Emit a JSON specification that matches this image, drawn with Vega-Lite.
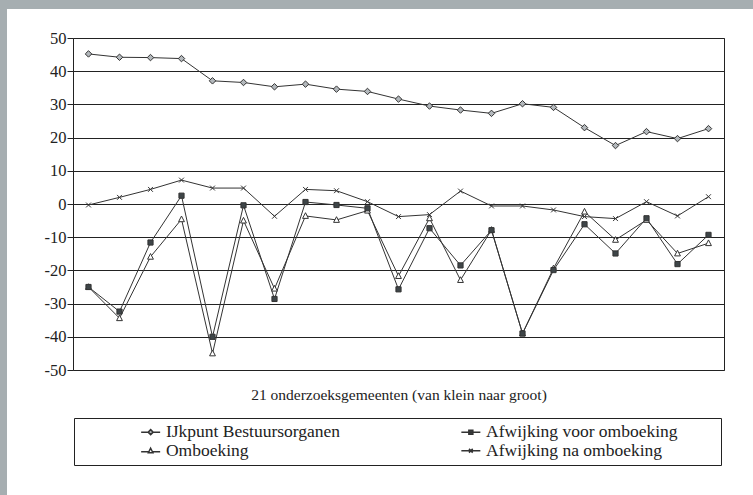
{
  "$schema": "https://vega.github.io/schema/vega-lite/v6.json",
  "background": "white",
  "padding": 0,
  "spacing": 0,
  "columns": 2,
  "align": "none",
  "config": {
    "font": "Liberation Serif",
    "axis": {"labelFont": "Liberation Serif", "titleFont": "Liberation Serif"},
    "legend": {"labelFont": "Liberation Serif", "titleFont": "Liberation Serif"}
  },
  "datasets": {
    "blank": [{}],
    "main": [
      {"i": 1, "s": "IJkpunt Bestuursorganen", "v": 45.2},
      {"i": 2, "s": "IJkpunt Bestuursorganen", "v": 44.2},
      {"i": 3, "s": "IJkpunt Bestuursorganen", "v": 44.1},
      {"i": 4, "s": "IJkpunt Bestuursorganen", "v": 43.8},
      {"i": 5, "s": "IJkpunt Bestuursorganen", "v": 37.1},
      {"i": 6, "s": "IJkpunt Bestuursorganen", "v": 36.6},
      {"i": 7, "s": "IJkpunt Bestuursorganen", "v": 35.3},
      {"i": 8, "s": "IJkpunt Bestuursorganen", "v": 36.1},
      {"i": 9, "s": "IJkpunt Bestuursorganen", "v": 34.6},
      {"i": 10, "s": "IJkpunt Bestuursorganen", "v": 33.9},
      {"i": 11, "s": "IJkpunt Bestuursorganen", "v": 31.6},
      {"i": 12, "s": "IJkpunt Bestuursorganen", "v": 29.5},
      {"i": 13, "s": "IJkpunt Bestuursorganen", "v": 28.3},
      {"i": 14, "s": "IJkpunt Bestuursorganen", "v": 27.3},
      {"i": 15, "s": "IJkpunt Bestuursorganen", "v": 30.2},
      {"i": 16, "s": "IJkpunt Bestuursorganen", "v": 29.1},
      {"i": 17, "s": "IJkpunt Bestuursorganen", "v": 23.0},
      {"i": 18, "s": "IJkpunt Bestuursorganen", "v": 17.6},
      {"i": 19, "s": "IJkpunt Bestuursorganen", "v": 21.8},
      {"i": 20, "s": "IJkpunt Bestuursorganen", "v": 19.7},
      {"i": 21, "s": "IJkpunt Bestuursorganen", "v": 22.7},
      {"i": 1, "s": "Omboeking", "v": -25.0},
      {"i": 2, "s": "Omboeking", "v": -34.4},
      {"i": 3, "s": "Omboeking", "v": -15.9},
      {"i": 4, "s": "Omboeking", "v": -4.6},
      {"i": 5, "s": "Omboeking", "v": -45.0},
      {"i": 6, "s": "Omboeking", "v": -5.0},
      {"i": 7, "s": "Omboeking", "v": -25.5},
      {"i": 8, "s": "Omboeking", "v": -3.6},
      {"i": 9, "s": "Omboeking", "v": -4.8},
      {"i": 10, "s": "Omboeking", "v": -2.0},
      {"i": 11, "s": "Omboeking", "v": -21.7},
      {"i": 12, "s": "Omboeking", "v": -4.3},
      {"i": 13, "s": "Omboeking", "v": -22.9},
      {"i": 14, "s": "Omboeking", "v": -7.8},
      {"i": 15, "s": "Omboeking", "v": -39.0},
      {"i": 16, "s": "Omboeking", "v": -19.4},
      {"i": 17, "s": "Omboeking", "v": -2.3},
      {"i": 18, "s": "Omboeking", "v": -10.8},
      {"i": 19, "s": "Omboeking", "v": -4.8},
      {"i": 20, "s": "Omboeking", "v": -14.9},
      {"i": 21, "s": "Omboeking", "v": -11.8},
      {"i": 1, "s": "Afwijking voor omboeking", "v": -25.0},
      {"i": 2, "s": "Afwijking voor omboeking", "v": -32.4},
      {"i": 3, "s": "Afwijking voor omboeking", "v": -11.6},
      {"i": 4, "s": "Afwijking voor omboeking", "v": 2.5},
      {"i": 5, "s": "Afwijking voor omboeking", "v": -40.0},
      {"i": 6, "s": "Afwijking voor omboeking", "v": -0.4},
      {"i": 7, "s": "Afwijking voor omboeking", "v": -28.6},
      {"i": 8, "s": "Afwijking voor omboeking", "v": 0.6},
      {"i": 9, "s": "Afwijking voor omboeking", "v": -0.3},
      {"i": 10, "s": "Afwijking voor omboeking", "v": -1.3},
      {"i": 11, "s": "Afwijking voor omboeking", "v": -25.7},
      {"i": 12, "s": "Afwijking voor omboeking", "v": -7.3},
      {"i": 13, "s": "Afwijking voor omboeking", "v": -18.5},
      {"i": 14, "s": "Afwijking voor omboeking", "v": -7.9},
      {"i": 15, "s": "Afwijking voor omboeking", "v": -39.0},
      {"i": 16, "s": "Afwijking voor omboeking", "v": -19.9},
      {"i": 17, "s": "Afwijking voor omboeking", "v": -6.1},
      {"i": 18, "s": "Afwijking voor omboeking", "v": -14.9},
      {"i": 19, "s": "Afwijking voor omboeking", "v": -4.3},
      {"i": 20, "s": "Afwijking voor omboeking", "v": -18.1},
      {"i": 21, "s": "Afwijking voor omboeking", "v": -9.3},
      {"i": 1, "s": "Afwijking na omboeking", "v": -0.3},
      {"i": 2, "s": "Afwijking na omboeking", "v": 2.0},
      {"i": 3, "s": "Afwijking na omboeking", "v": 4.4},
      {"i": 4, "s": "Afwijking na omboeking", "v": 7.2},
      {"i": 5, "s": "Afwijking na omboeking", "v": 4.8},
      {"i": 6, "s": "Afwijking na omboeking", "v": 4.8},
      {"i": 7, "s": "Afwijking na omboeking", "v": -3.7},
      {"i": 8, "s": "Afwijking na omboeking", "v": 4.4},
      {"i": 9, "s": "Afwijking na omboeking", "v": 4.0},
      {"i": 10, "s": "Afwijking na omboeking", "v": 0.7},
      {"i": 11, "s": "Afwijking na omboeking", "v": -3.8},
      {"i": 12, "s": "Afwijking na omboeking", "v": -3.2},
      {"i": 13, "s": "Afwijking na omboeking", "v": 3.9},
      {"i": 14, "s": "Afwijking na omboeking", "v": -0.6},
      {"i": 15, "s": "Afwijking na omboeking", "v": -0.6},
      {"i": 16, "s": "Afwijking na omboeking", "v": -1.8},
      {"i": 17, "s": "Afwijking na omboeking", "v": -3.8},
      {"i": 18, "s": "Afwijking na omboeking", "v": -4.4},
      {"i": 19, "s": "Afwijking na omboeking", "v": 0.7},
      {"i": 20, "s": "Afwijking na omboeking", "v": -3.6},
      {"i": 21, "s": "Afwijking na omboeking", "v": 2.2}
    ]
  },
  "concat": [
    {
      "width": 7,
      "height": 29,
      "view": {"fill": "#a6aeb1", "stroke": null},
      "data": {"name": "blank"},
      "mark": {"type": "point", "opacity": 0}
    },
    {
      "width": 746,
      "height": 9,
      "view": {"fill": "#a6aeb1", "stroke": null},
      "data": {"name": "blank"},
      "mark": {"type": "point", "opacity": 0}
    },
    {
      "width": 7,
      "height": 466,
      "view": {"fill": "#a6aeb1", "stroke": null},
      "data": {"name": "blank"},
      "mark": {"type": "point", "opacity": 0}
    },
    {
      "width": 651,
      "height": 332,
      "view": {"stroke": "#222222", "strokeWidth": 1, "fill": "white"},
      "data": {"name": "main"},
      "encoding": {
        "x": {
          "field": "i",
          "type": "ordinal",
          "axis": {
            "labels": false,
            "ticks": false,
            "domain": false,
            "title": "21 onderzoeksgemeenten (van klein naar groot)",
            "titleFont": "Liberation Serif",
            "titleFontSize": 15.5,
            "titleFontWeight": "normal",
            "titleColor": "#222222",
            "titlePadding": 17
          }
        },
        "y": {
          "field": "v",
          "type": "quantitative",
          "scale": {"domain": [-50, 50], "nice": false},
          "axis": {
            "values": [-50, -40, -30, -20, -10, 0, 10, 20, 30, 40, 50],
            "title": null,
            "labelExpr": "toString(datum.value)",
            "labelFont": "Liberation Serif",
            "labelFontSize": 16.5,
            "labelColor": "#222222",
            "tickSize": 6,
            "tickColor": "#222222",
            "labelPadding": 1,
            "domain": false,
            "grid": true,
            "gridColor": "#222222",
            "gridOpacity": 1,
            "minExtent": 65,
            "maxExtent": 65
          }
        }
      },
      "resolve": {
        "scale": {"shape": "independent", "fill": "independent"},
        "legend": {"shape": "independent", "fill": "independent"}
      },
      "layer": [
        {
          "mark": {"type": "line", "stroke": "#333333", "strokeWidth": 1},
          "encoding": {"detail": {"field": "s"}}
        },
        {
          "mark": {"type": "point", "filled": true, "stroke": "#333333", "strokeWidth": 1, "size": 42, "opacity": 1},
          "encoding": {
            "shape": {
              "field": "s",
              "type": "nominal",
              "scale": {
                "domain": ["IJkpunt Bestuursorganen", "Omboeking", "Afwijking voor omboeking", "Afwijking na omboeking"],
                "range": ["M0,-1L1,0L0,1L-1,0Z", "M0,-1L0.9,0.75L-0.9,0.75Z", "M-0.8,-0.8H0.8V0.8H-0.8Z", "M-0.75,-0.75L0.75,0.75M-0.75,0.75L0.75,-0.75"]
              },
              "legend": null
            },
            "fill": {
              "field": "s",
              "type": "nominal",
              "scale": {
                "domain": ["IJkpunt Bestuursorganen", "Omboeking", "Afwijking voor omboeking", "Afwijking na omboeking"],
                "range": ["#b3b8bc", "#ffffff", "#3e4548", "#333333"]
              },
              "legend": null
            }
          }
        },
        {
          "transform": [{"filter": "datum.v > 1000"}],
          "mark": {"type": "point", "filled": true, "stroke": "#333333", "strokeWidth": 1, "size": 25, "opacity": 1},
          "encoding": {
            "shape": {
              "field": "s",
              "type": "nominal",
              "scale": {
                "domain": ["IJkpunt Bestuursorganen", "Omboeking", "Afwijking voor omboeking", "Afwijking na omboeking"],
                "range": [
                  "M-3.8,0H-1M1,0H3.8M0,-1L1,0L0,1L-1,0Z",
                  "M-3.8,0.4H-0.7M0.7,0.4H3.8M0,-1L0.9,0.75L-0.9,0.75Z",
                  "M-3.8,0H3.8M-0.8,-0.8H0.8V0.8H-0.8Z",
                  "M-3.8,0H3.8M-0.75,-0.75L0.75,0.75M-0.75,0.75L0.75,-0.75"
                ]
              },
              "legend": {
                "title": "\u00a0",
                "titleOrient": "right",
                "titlePadding": 38,
                "titleFontSize": 1,
                "orient": "none",
                "legendX": 1,
                "legendY": 380,
                "columns": 2,
                "padding": 5,
                "strokeColor": "#222222",
                "fillColor": "white",
                "symbolSize": 25,
                "symbolOffset": 62.9,
                "labelOffset": 6.5,
                "columnPadding": 58.2,
                "rowPadding": 0,
                "labelFont": "Liberation Serif",
                "labelFontSize": 17.5,
                "labelColor": "#222222",
                "labelLimit": 0,
                "encode": {
                  "symbols": {
                    "stroke": {"value": "#333333"},
                    "strokeWidth": {"value": 1}
                  }
                }
              }
            },
            "fill": {
              "field": "s",
              "type": "nominal",
              "scale": {
                "domain": ["IJkpunt Bestuursorganen", "Omboeking", "Afwijking voor omboeking", "Afwijking na omboeking"],
                "range": ["#b3b8bc", "#ffffff", "#3e4548", "#333333"]
              },
              "legend": {
                "title": "\u00a0",
                "titleOrient": "right",
                "titlePadding": 38,
                "titleFontSize": 1,
                "orient": "none",
                "legendX": 1,
                "legendY": 380,
                "columns": 2,
                "padding": 5,
                "strokeColor": "#222222",
                "fillColor": "white",
                "symbolSize": 25,
                "symbolOffset": 62.9,
                "labelOffset": 6.5,
                "columnPadding": 58.2,
                "rowPadding": 0,
                "labelFont": "Liberation Serif",
                "labelFontSize": 17.5,
                "labelColor": "#222222",
                "labelLimit": 0,
                "encode": {
                  "symbols": {
                    "stroke": {"value": "#333333"},
                    "strokeWidth": {"value": 1}
                  }
                }
              }
            }
          }
        }
      ]
    }
  ]
}
